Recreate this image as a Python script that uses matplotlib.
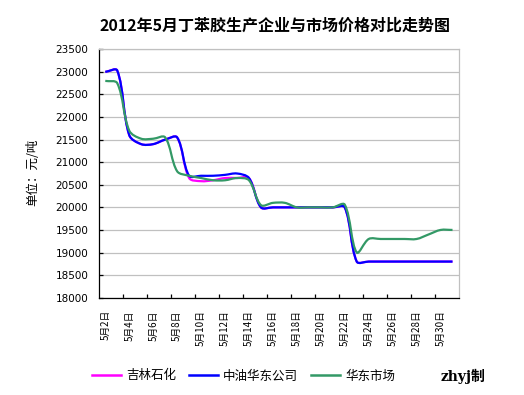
import numpy as np
import matplotlib
matplotlib.use("Agg")
import matplotlib.pyplot as plt
from matplotlib.path import Path
from matplotlib.patches import PathPatch
from matplotlib.lines import Line2D

plt.rcParams['font.family'] = ['Noto Sans CJK SC', 'DejaVu Sans']

# ---- data ----
dates = ["5月2日", "5月3日", "5月4日", "5月5日", "5月6日", "5月7日", "5月8日",
         "5月9日", "5月10日", "5月11日", "5月12日", "5月13日", "5月14日",
         "5月15日", "5月16日", "5月17日", "5月18日", "5月19日", "5月20日",
         "5月21日", "5月22日", "5月23日", "5月24日", "5月25日", "5月26日",
         "5月27日", "5月28日", "5月29日", "5月30日", "5月31日"]

jilin = [23000, 23030, 21600, 21400, 21400, 21500, 21550,
         20650, 20580, 20600, 20650, 20650, 20650,
         20000, 20000, 20000, 20000, 20000, 20000,
         20000, 20000, 18800, 18800, 18800, 18800,
         18800, 18800, 18800, 18800, 18800]

zhongyou = [23000, 23030, 21600, 21400, 21400, 21500, 21550,
            20700, 20700, 20700, 20720, 20750, 20650,
            20000, 20000, 20000, 20000, 20000, 20000,
            20000, 20000, 18800, 18800, 18800, 18800,
            18800, 18800, 18800, 18800, 18800]

huadong = [22800, 22750, 21700, 21520, 21520, 21550, 20800,
           20700, 20650, 20600, 20600, 20650, 20600,
           20050, 20100, 20100, 20000, 20000, 20000,
           20000, 20060, 19000, 19300, 19300, 19300,
           19300, 19300, 19400, 19500, 19500]

series_names = ["吉林石化", "中油华东公司", "华东市场"]
series_colors = ["#FF00FF", "#0000FF", "#339966"]
yticks = list(range(18000, 23501, 500))

W, H = 524, 395
fig = plt.figure(figsize=(W / 100, H / 100), dpi=100)
ax = fig.add_axes([99.3 / W, 1 - 297.7 / H, (458.5 - 99.3) / W, (297.7 - 49.3) / H])

n = len(dates)
x = np.arange(n)
ax.set_xlim(-0.5, n - 0.5)
ax.set_ylim(18000, 23500)


def smooth_path(xs, ys):
    pts = ax.transData.transform(np.column_stack([xs, ys]).astype(float))
    m = len(pts)
    verts = [pts[0]]
    codes = [Path.MOVETO]
    for i in range(m - 1):
        p0 = pts[i - 1] if i > 0 else pts[i]
        p1 = pts[i]
        p2 = pts[i + 1]
        p3 = pts[i + 2] if i + 2 < m else pts[i + 1]
        d01 = np.linalg.norm(p1 - p0)
        d12 = np.linalg.norm(p2 - p1)
        d23 = np.linalg.norm(p3 - p2)
        f1 = d12 / (d01 + d12) if d01 + d12 > 0 else 0
        f2 = d12 / (d12 + d23) if d12 + d23 > 0 else 0
        c1 = p1 + (p2 - p0) * f1 / 3
        c2 = p2 - (p3 - p1) * f2 / 3
        verts += [c1, c2, p2]
        codes += [Path.CURVE4] * 3
    verts = ax.transData.inverted().transform(np.array(verts))
    return Path(verts, codes)


fig.canvas.draw()
for ys, col in zip([jilin, zhongyou, huadong], series_colors):
    patch = PathPatch(smooth_path(x, ys), facecolor='none', edgecolor=col,
                      lw=1.6, zorder=3, capstyle='butt', joinstyle='round')
    ax.add_patch(patch)

# grid & spines
ax.set_yticks(yticks)
ax.yaxis.grid(True, color='#C0C0C0', lw=0.9)
ax.set_axisbelow(True)
for s in ['top', 'right']:
    ax.spines[s].set_color('#C0C0C0')
    ax.spines[s].set_linewidth(0.9)
for s in ['left', 'bottom']:
    ax.spines[s].set_color('black')
    ax.spines[s].set_linewidth(0.9)

ax.tick_params(axis='y', direction='in', length=3, width=0.9, pad=8, labelsize=7.5)
for lab in ax.get_yticklabels():
    lab.set_family('DejaVu Sans')

ax.set_xticks(x[::2])
ax.set_xticklabels(dates[::2], rotation=90, fontsize=7, va='top', ha='center')
ax.set_xticks(np.arange(1.5, n - 2, 2), minor=True)
ax.tick_params(axis='x', which='major', length=0, pad=9)
ax.tick_params(axis='x', which='minor', direction='in', length=3, width=0.9)

fig.text(275.5 / W, 1 - 26 / H, "2012年5月丁苯胶生产企业与市场价格对比走势图",
         ha='center', va='center', fontsize=11.5, fontweight='bold')
fig.text(33 / W, 1 - 172 / H, "单位：元/吨", rotation=90, ha='center',
         va='center', fontsize=9)

handles = [Line2D([], [], color=c, lw=1.8) for c in series_colors]
fig.legend(handles, series_names, ncol=3, loc='center left',
           bbox_to_anchor=(92 / W, 1 - 376 / H), frameon=False,
           handlelength=2.3, handletextpad=0.45, columnspacing=1.0,
           borderpad=0, borderaxespad=0, fontsize=9)
fig.text(463 / W, 1 - 376 / H, "zhyj制", ha='center', va='center',
         fontsize=10, fontweight='bold', family=['DejaVu Serif', 'Noto Sans CJK SC'])

fig.savefig("out.png", dpi=100)
